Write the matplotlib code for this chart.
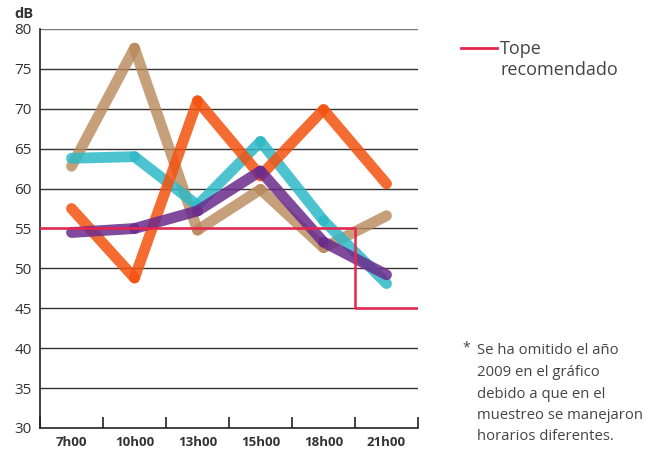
import numpy as np
import matplotlib.pyplot as plt

plt.rcParams['font.family'] = ['Open Sans', 'DejaVu Sans']

horas = ["7h00", "10h00", "13h00", "15h00", "18h00", "21h00"]
serie_cafe = [62.8, 77.6, 54.8, 59.9, 52.6, 56.6]
serie_cian = [63.8, 64.0, 57.9, 65.9, 56.0, 48.1]
serie_naranja = [57.5, 48.8, 71.0, 61.6, 69.9, 60.6]
serie_morado = [54.5, 55.0, 57.2, 62.2, 53.3, 49.2]
tope_x = [0, 5, 5, 6]
tope_y = [55, 55, 45, 45]

series = [(serie_cafe, '#b8885a', 0.8),
          (serie_cian, '#2fb9c8', 0.85),
          (serie_naranja, '#f4520f', 0.85),
          (serie_morado, '#6a2b8c', 0.85)]

fig = plt.figure(figsize=(6.68, 4.51), dpi=100)
ax = fig.add_axes([0.0599, 0.051, 0.5659, 0.8847])

for yv in range(35, 85, 5):
    ax.axhline(yv, color='#333333' if yv < 80 else '#777777', lw=1.0, zorder=1)

xpos = np.arange(len(horas)) + 0.5
for vals, col, a in series:
    for i in range(len(vals) - 1):
        ax.plot(xpos[i:i+2], vals[i:i+2], color=col, alpha=a, lw=7.8,
                solid_capstyle='round', zorder=3)

ax.plot(tope_x, tope_y, color='#e8254f', lw=1.8, zorder=4)

ax.set_xlim(0, 6)
ax.set_ylim(30, 80)
ax.set_yticks(range(30, 85, 5))
ax.tick_params(axis='y', length=0, pad=6, labelsize=11, labelcolor='#333333')
ax.set_xticks(range(0, 7))
ax.set_xticklabels([])
ax.set_xticks(xpos, minor=True)
ax.set_xticklabels(horas, minor=True, fontweight='bold', fontsize=9.5, color='#333333')
ax.tick_params(axis='x', which='major', direction='in', length=8, width=1.2, color='#222222')
ax.tick_params(axis='x', which='minor', length=0, pad=6)

for s in ['top', 'right']:
    ax.spines[s].set_visible(False)
ax.spines['left'].set_color('#222222')
ax.spines['bottom'].set_color('#222222')
ax.spines['left'].set_linewidth(1.2)
ax.spines['bottom'].set_linewidth(1.2)

fig.text(14/668, 1-14/451, 'dB', fontweight='bold', fontsize=10.5, color='#333333', va='center')

fig.add_artist(plt.Line2D([461/668, 497/668], [1-48/451, 1-48/451], color='#e8254f', lw=2))
fig.text(500/668, 1-49/451, 'Tope', fontsize=13, color='#444444', va='center')
fig.text(500/668, 1-70/451, 'recomendado', fontsize=13, color='#444444', va='center')

fig.text(462/668, 1-348/451, '*', fontsize=10, color='#444444', va='center')
nota = ["Se ha omitido el año", "2009 en el gráfico", "debido a que en el",
        "muestreo se manejaron", "horarios diferentes."]
for k, linea in enumerate(nota):
    fig.text(477/668, 1-(351+21.5*k)/451, linea, fontsize=10.7, color='#444444', va='center')

fig.savefig('out.png', dpi=100)
